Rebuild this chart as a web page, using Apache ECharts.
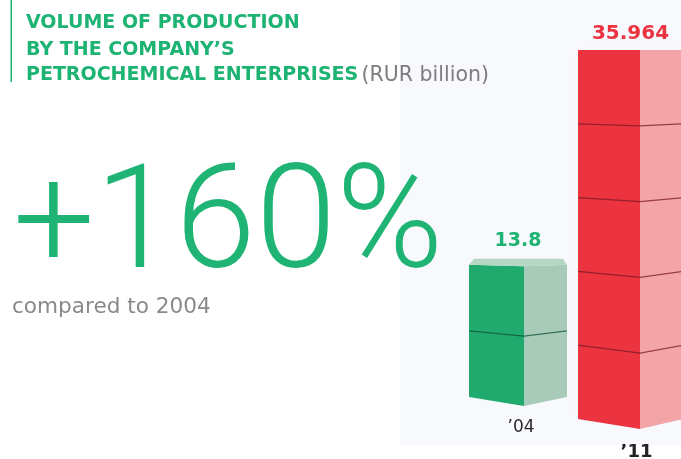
<!DOCTYPE html>
<html>
<head>
<meta charset="utf-8">
<script src="https://cdn.jsdelivr.net/npm/echarts@6/dist/echarts.min.js"></script>
<style>
  html, body { margin: 0; padding: 0; background: #ffffff; }
  #chart { width: 681px; height: 459px; }
</style>
</head>
<body>
<div id="chart"></div>
<script>
// Production volume, RUR billion
const categories = ['\u201904', '\u201911'];
const values = [13.8, 35.964];
const growthText = '+160%';
const growthNote = 'compared to 2004';
const titleLines = ['VOLUME OF PRODUCTION', 'BY THE COMPANY\u2019S', 'PETROCHEMICAL ENTERPRISES'];
const unitText = '(RUR billion)';

const GREEN = '#1db373';
const RED = '#ec3340';

// Look of each stacked-block column
const boxStyles = [
  { front: '#20aa6e', side: '#a8cbb9', top: '#b7d7c5', divider: 'rgba(20,80,55,0.75)',
    depth: 43, dipTop: 1.5, dipBottom: 9, rise: 6,
    labelColor: GREEN, labelSize: 19, labelGap: 18,
    catSize: 17, catWeight: 'normal', catColor: '#2a2a2a', catGap: 31, catDx: 3 },
  { front: '#ec3340', side: '#f2a4a7', top: '#f5bcbe', divider: 'rgba(120,25,35,0.75)',
    depth: 43, dipTop: 0, dipBottom: 10, rise: 0,
    labelColor: RED, labelSize: 20, labelGap: 16,
    catSize: 18, catWeight: 'bold', catColor: '#222222', catGap: 33, catDx: 6 }
];
const BLOCK = 7; // approximate value per block

function makeRenderer(idx) {
  const st = boxStyles[idx];
  return function (params, api) {
    const v = api.value(1);
    const topPt = api.coord([0, v]);
    const basePt = api.coord([0, 0]);
    const band = api.size([1, 0])[0];
    const x0 = basePt[0] - band / 2;
    const x1 = basePt[0] + band / 2;
    const x2 = x1 + st.depth;
    const yT = topPt[1];
    const yB = basePt[1];
    const dip = y => st.dipTop + (st.dipBottom - st.dipTop) * (y - yT) / (yB - yT);
    const children = [];
    if (idx === 1) {
      children.push({
        type: 'polygon',
        shape: { points: [[x0, yT], [x2, yT], [x2, yB], [x0, yB]] },
        style: { fill: 'rgba(236,51,64,0.06)', shadowBlur: 10, shadowColor: 'rgba(236,51,64,0.25)' }
      });
    }
    children.push({
      type: 'polygon',
      shape: { points: [[x0, yT], [x1, yT + dip(yT)], [x1, yB + dip(yB)], [x0, yB]] },
      style: { fill: st.front }
    });
    children.push({
      type: 'polygon',
      shape: { points: [[x1, yT + dip(yT)], [x2, yT], [x2, yB], [x1, yB + dip(yB)]] },
      style: { fill: st.side }
    });
    if (st.rise > 0) {
      children.push({
        type: 'polygon',
        shape: { points: [[x0, yT], [x1, yT + dip(yT)], [x2, yT], [x2 - 4, yT - st.rise], [x0 + 5, yT - st.rise]] },
        style: { fill: st.top }
      });
    }
    const n = Math.max(1, Math.round(v / BLOCK));
    for (let k = 1; k < n; k++) {
      const y = api.coord([0, v * k / n])[1];
      children.push({
        type: 'polyline',
        shape: { points: [[x0, y], [x1, y + dip(y)], [x2, y]] },
        style: { stroke: st.divider, lineWidth: 1.2, fill: null }
      });
    }
    children.push({
      type: 'text',
      style: {
        text: String(v), x: (x0 + x2) / 2, y: yT - st.rise - st.labelGap,
        align: 'center', verticalAlign: 'middle',
        fill: st.labelColor, font: 'bold ' + st.labelSize + 'px "DejaVu Sans"'
      }
    });
    children.push({
      type: 'text',
      style: {
        text: categories[idx], x: (x0 + x2) / 2 + st.catDx, y: yB + st.catGap,
        align: 'center', verticalAlign: 'middle',
        fill: st.catColor, font: st.catWeight + ' ' + st.catSize + 'px "DejaVu Sans"'
      }
    });
    return { type: 'group', children: children };
  };
}

const chart = echarts.init(document.getElementById('chart'), null, { renderer: 'canvas' });

chart.setOption({
  backgroundColor: '#ffffff',
  animation: false,
  grid: [
    { left: 469, width: 55, top: 14, height: 383 },
    { left: 578, width: 62, top: 8.6, height: 410.4 }
  ],
  xAxis: [
    { type: 'category', gridIndex: 0, data: [categories[0]], show: false },
    { type: 'category', gridIndex: 1, data: [categories[1]], show: false }
  ],
  yAxis: [
    { type: 'value', gridIndex: 0, min: 0, max: 40, show: false },
    { type: 'value', gridIndex: 1, min: 0, max: 40, show: false }
  ],
  series: [0, 1].map(i => ({
    type: 'custom',
    xAxisIndex: i,
    yAxisIndex: i,
    clip: false,
    renderItem: makeRenderer(i),
    encode: { x: 0, y: 1 },
    data: [[0, values[i]]]
  })),
  graphic: [
    { type: 'rect', z: -10, silent: true, shape: { x: 400, y: 0, width: 281, height: 445 }, style: { fill: '#f8f9fd' } },
    { type: 'rect', silent: true, shape: { x: 10.5, y: 0, width: 1.5, height: 82 }, style: { fill: GREEN } },
    { type: 'text', left: 26, top: 14, silent: true,
      style: { text: titleLines[0], fill: GREEN, font: 'bold 19px "DejaVu Sans"' } },
    { type: 'text', left: 26, top: 41, silent: true,
      style: { text: titleLines[1], fill: GREEN, font: 'bold 19px "DejaVu Sans"' } },
    { type: 'text', left: 26, top: 65, silent: true,
      style: {
        text: '{g|' + titleLines[2] + '} {u|' + unitText + '}',
        rich: {
          g: { fill: GREEN, font: 'bold 19px "DejaVu Sans"' },
          u: { fill: '#7d7d7d', font: 'normal 20.5px "DejaVu Sans"' }
        }
      } },
    { type: 'text', silent: true, x: 13, y: 231,
      style: { text: growthText, fill: '#1fb474', font: '300 145px Roboto', verticalAlign: 'middle' } },
    { type: 'text', silent: true, x: 12, y: 307,
      style: { text: growthNote, fill: '#8a8a8a', font: 'normal 21.6px "DejaVu Sans"', verticalAlign: 'middle' } }
  ]
});
</script>
</body>
</html>
